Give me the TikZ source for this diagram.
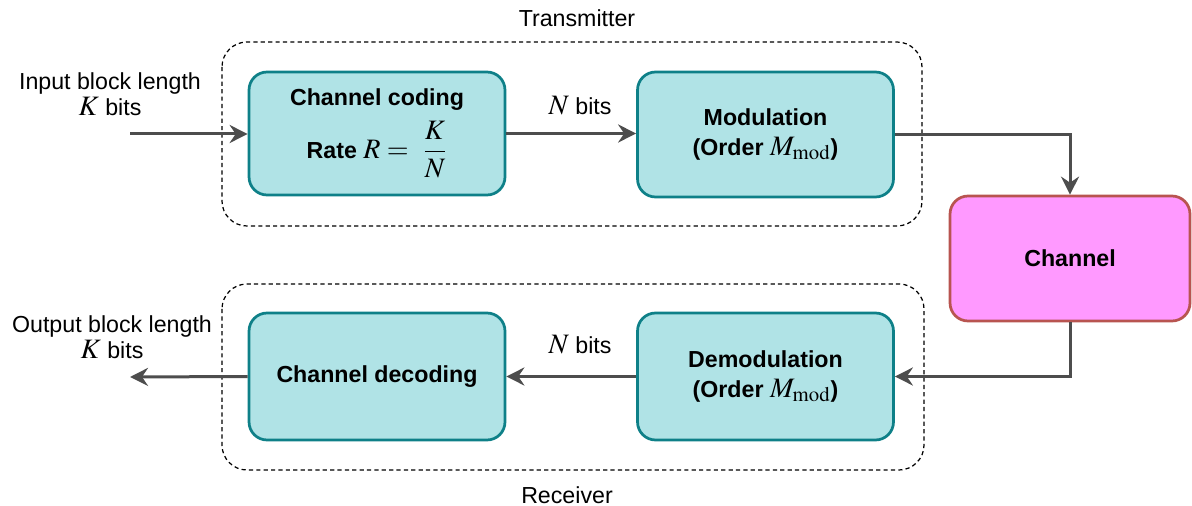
\documentclass[tikz,border=0pt]{standalone}
\usepackage{amsmath}
\usepackage{mathptmx}
\usepackage[no-math]{fontspec}
\setmainfont{Liberation Sans}
\usetikzlibrary{arrows.meta}
\definecolor{tealfill}{HTML}{B0E3E6}
\definecolor{tealline}{HTML}{0E8088}
\definecolor{chanfill}{HTML}{FF99FF}
\definecolor{chanline}{HTML}{B85450}
\definecolor{wire}{HTML}{4D4D4D}
\newcommand{\mth}[1]{{\fontsize{16}{18}\selectfont$#1$}}
\tikzset{
  blk/.style={draw=tealline,fill=tealfill,line width=.055cm,rounded corners=.36cm,
    minimum width=5.12cm,minimum height=2.5cm,align=center,
    font=\fontsize{13.2}{17}\selectfont\bfseries},
  chanblk/.style={blk,draw=chanline,fill=chanfill,minimum width=4.8cm},
  frame/.style={draw=black,line width=.7pt,dash pattern=on 2.4pt off 1.8pt,rounded corners=.5cm},
  wireline/.style={draw=wire,line width=.06cm,-{Stealth[length=.36cm,width=.36cm,inset=.12cm]}},
  lbl/.style={align=center,font=\fontsize{13.2}{14.5}\selectfont}
}
\begin{document}
\begin{tikzpicture}[x=.02cm,y=-.02cm]
  \useasboundingbox (0,0) rectangle (1192,506);
  % transmitter / receiver frames
  \draw[frame] (222,42) rectangle (922,226);
  \draw[frame] (222,284) rectangle (924,470);
  \node[lbl] (tx) at (577,18) {Transmitter};
  \node[lbl] (rx) at (567,495) {Receiver};
  % blocks
  \node[blk,minimum height=2.46cm] (code) at (377,133.5) {Channel coding\\[5pt]
    Rate \mth{R =\ \dfrac{K}{N}}};
  \node[blk] (mod) at (765.5,134.5) {Modulation\\(Order \mth{M_{\mathrm{mod}}})};
  \node[chanblk] (chan) at (1070,258.5) {Channel};
  \node[blk,minimum height=2.54cm] (dec) at (377,376.5) {Channel decoding};
  \node[blk,minimum height=2.54cm] (demod) at (765.5,376.5) {Demodulation\\(Order \mth{M_{\mathrm{mod}}})};
  % free ends
  \coordinate (in) at (130,134);
  \coordinate (out) at (130,377);
  \node[lbl] (inlbl) at (110,94) {Input block length\\\mth{K} bits};
  \node[lbl] (outlbl) at (112,337) {Output block length\\\mth{K} bits};
  \node[lbl] (nup) at (580,106) {\mth{N} bits};
  \node[lbl] (ndown) at (580,345) {\mth{N} bits};
  % connectors
  \draw[wireline] (in) -- (code.west |- in);
  \draw[wireline] (code.east) -- (code.east -| mod.west);
  \draw[wireline] (mod.east) -| (chan.north);
  \draw[wireline] (chan.south) |- (demod.east);
  \draw[wireline] (demod.west) -- (dec.east);
  \draw[wireline] (dec.west) -- (out);
\end{tikzpicture}
\end{document}
